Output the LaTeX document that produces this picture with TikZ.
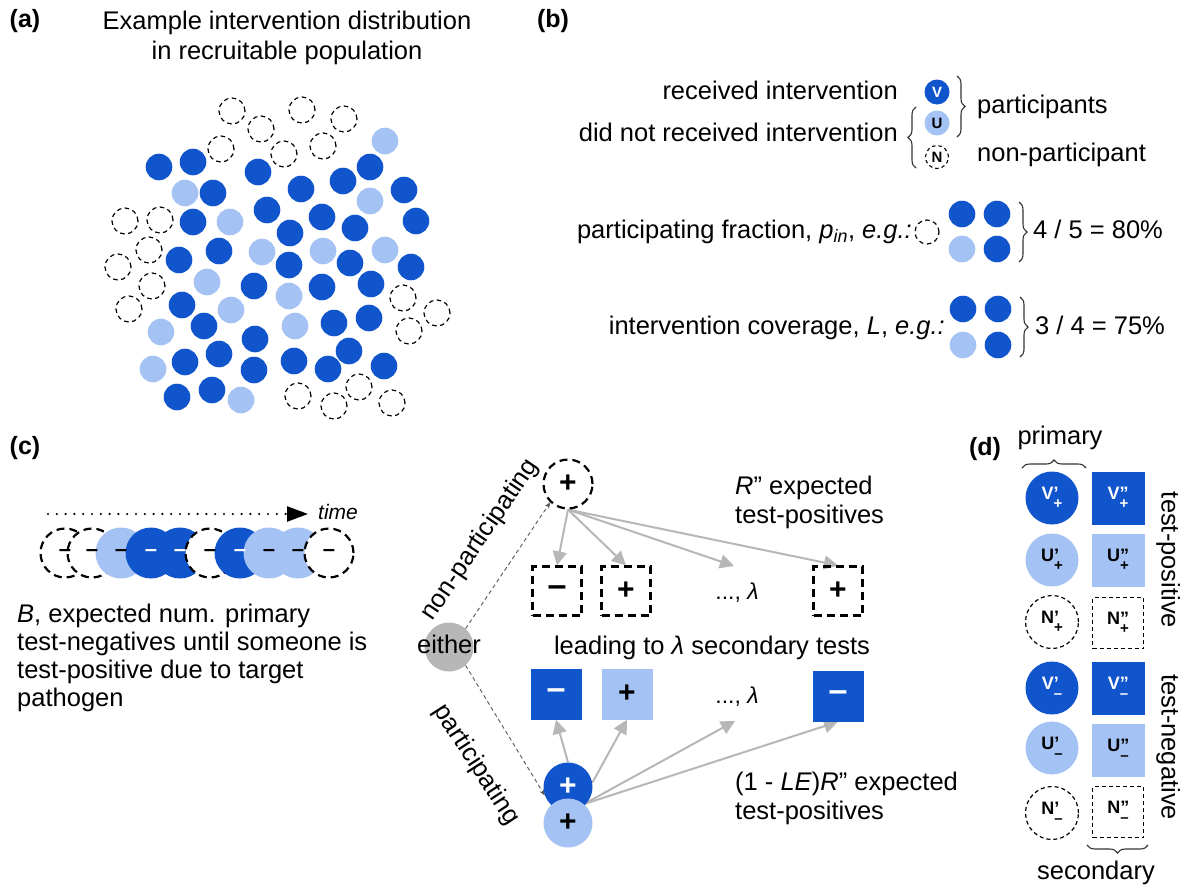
\documentclass[tikz,border=0pt]{standalone}
\usepackage{fontspec}
\setmainfont{Liberation Sans}
\usetikzlibrary{arrows.meta,decorations.pathreplacing}
\definecolor{dblue}{HTML}{1155CC}
\definecolor{lblue}{HTML}{A4C2F4}
\definecolor{egrey}{HTML}{B7B7B7}
\definecolor{agrey}{HTML}{B7B7B7}
\definecolor{bracec}{HTML}{333333}
\pgfdeclarelayer{back}
\pgfdeclarelayer{bg}
\pgfsetlayers{back,bg,main}
\newcommand{\dlab}[3]{\textbf{#1\rlap{#2}\raisebox{-0.5em}{\fontsize{15}{15}\selectfont #3}}}
\newcommand{\mn}{{\fontsize{34}{34}\selectfont –}}
\begin{document}
\begin{tikzpicture}[x=1pt,y=-1pt,
  txt/.style={inner sep=0pt, font=\fontsize{25.5}{28.5}\selectfont, text height=18pt, text depth=5pt},
  mtxt/.style={inner sep=0pt, align=left},
  plab/.style={inner sep=0pt, font=\bfseries\fontsize{25}{28}\selectfont, text height=18pt, text depth=5pt},
  dk/.style={circle, fill=dblue, inner sep=0pt, minimum size=26.6pt},
  lt/.style={circle, fill=lblue, inner sep=0pt, minimum size=26.6pt},
  dc/.style={circle, draw=black, line width=1.2pt, dash pattern=on 4.5pt off 3.5pt, inner sep=0pt, minimum size=26pt},
  leg/.style={circle, inner sep=0pt, minimum size=25pt, font=\bfseries\fontsize{15}{15}\selectfont},
  legd/.style={leg, draw=black, line width=1.1pt, dash pattern=on 3.5pt off 3pt, minimum size=23pt},
  tcd/.style={circle, draw=black, fill=white, line width=2.2pt, dash pattern=on 8pt off 5pt, inner sep=0pt, minimum size=49pt},
  tcl/.style={circle, fill=lblue, inner sep=0pt, minimum size=51pt},
  tck/.style={circle, fill=dblue, inner sep=0pt, minimum size=51pt},
  tmin/.style={inner sep=0pt, font=\bfseries\fontsize{22}{22}\selectfont},
  pm/.style={font=\bfseries\fontsize{30}{30}\selectfont},
  dbx/.style={rectangle, draw=black, line width=2.2pt, dash pattern=on 8pt off 5pt, minimum size=49pt, inner sep=0pt, pm},
  fbx/.style={rectangle, minimum size=51pt, inner sep=0pt, pm},
  ell/.style={inner sep=0pt, font=\fontsize{23}{23}\selectfont},
  garr/.style={draw=agrey, line width=2pt, -{Triangle[length=14pt,width=14pt]}},
  tdash/.style={draw=black!65, line width=0.9pt, dash pattern=on 4pt off 3pt, -{Stealth[length=6pt,width=5pt]}},
  brc/.style={decorate, decoration={brace, amplitude=#1}, line width=1.1pt, draw=bracec},
  brc/.default=8pt,
  dcirc/.style={circle, inner sep=0pt, minimum size=53pt, font=\fontsize{18}{18}\selectfont},
  dsq/.style={rectangle, inner sep=0pt, minimum size=53pt, font=\fontsize{18}{18}\selectfont},
  ddash/.style={draw=black, line width=1.2pt, dash pattern=on 4pt off 3pt},
]
\begin{pgfonlayer}{back}
\fill[white] (0,0) rectangle (1187,892);
\end{pgfonlayer}
\useasboundingbox (0,0) rectangle (1187,892);

% ---------------- (a)
\node[plab] (la) at (25,21) {(a)};
\node[mtxt, align=center, anchor=north, font=\fontsize{25.5}{30.7}\selectfont] (ttl) at (287,10.5) {Example intervention distribution\\in recruitable population};
\foreach \x/\y [count=\i] in {232/111,302/110,344/119,261/129,221/149,284/154,323/146,125/221,160/220,149/250,118/267,152/286,129/309,403/298,437/313,409/331,298/396,334/406,359/387,392/403}
  \node[dc] (an\i) at (\x,\y) {};
\foreach \x/\y [count=\i] in {385/141,185/193,370/201,230/222,262/252,323/251,385/250,207/282,289/296,231/310,161/332,295/326,153/369,241/400}
  \node[lt] (al\i) at (\x,\y) {};
\foreach \x/\y [count=\i] in {159/167,193/162,258/172,370/167,343/181,301/189,213/193,404/190,267/210,193/222,322/217,416/221,290/233,355/228,179/260,219/251,289/265,350/263,411/267,254/286,322/287,371/284,182/305,204/326,334/323,369/318,255/339,185/362,219/354,349/351,254/370,294/361,328/369,384/366,177/397,212/390}
  \node[dk] (ak\i) at (\x,\y) {};

% ---------------- (b)
\node[plab] (lb) at (553,21) {(b)};
\node[txt, anchor=east] (recv) at (898,93) {received intervention};
\node[txt, anchor=east] (dnr) at (898,135) {did not received intervention};
\node[leg, fill=dblue, text=white] (bV) at (937,92) {V};
\node[leg, fill=lblue] (bU) at (937,123) {U};
\node[legd] (bN) at (937,157) {N};
\draw[brc] (916,168) -- (916,107);
\draw[brc] (957,76) -- (957,137);
\node[txt, anchor=west] (part) at (977,107) {participants};
\node[txt, anchor=west] (npart) at (977,155) {non-participant};

\node[txt, anchor=east] (pin) at (912,232) {participating fraction, \textit{p}\textsubscript{\textit{in}}, \textit{e.g.:}};
\node[dc, minimum size=24pt] (pn) at (927,232) {};
\node[dk] (p1) at (962,214) {};
\node[dk] (p2) at (997,214) {};
\node[lt] (p3) at (962,249) {};
\node[dk] (p4) at (997,249) {};
\draw[brc] (1019,202) -- (1019,262);
\node[txt, anchor=west] (pr) at (1033,232) {4 / 5 = 80\%};

\node[txt, anchor=east] (cov) at (945,328) {intervention coverage, \textit{L}, \textit{e.g.:}};
\node[dk] (q1) at (963,309) {};
\node[dk] (q2) at (998,309) {};
\node[lt] (q3) at (963,345) {};
\node[dk] (q4) at (998,345) {};
\draw[brc] (1020,297) -- (1020,357);
\node[txt, anchor=west] (qr) at (1035,328) {3 / 4 = 75\%};

% ---------------- (c) timeline
\node[plab] (lc) at (25,448) {(c)};
\coordinate (tA) at (48,514);
\coordinate (tB) at (308,514);
\draw[line width=2.4pt, line cap=round, dash pattern=on 0pt off 8.8pt, -{Triangle[length=21pt,width=15pt]}] (tA) -- (tB);
\node[inner sep=0pt, anchor=west, font=\itshape\fontsize{21}{21}\selectfont, text height=15pt, text depth=4pt] (time) at (318,514) {time};
\foreach \x/\s [count=\i] in {65/tcd,92/tcd,121/tcl,151/tck,180/tck,210/tcd,240/tck,269/tcl,298/tcl,329/tcd}
  \node[\s] (tc\i) at (\x,553) {};
\foreach \c [count=\i] in {black,black,black,white,white,black,white,black,black,black}
  \node[tmin, text=\c] (tm\i) at (tc\i) {–};
\node[mtxt, anchor=north west, font=\fontsize{25.5}{28}\selectfont] (ctext) at (17,604) {\textit{B}, expected num. primary\\test-negatives until someone is\\test-positive due to target\\pathogen};

% ---------------- (c) tree
\node[circle, draw=black, line width=2.2pt, dash pattern=on 8pt off 5pt, fill=white, minimum size=49pt, inner sep=0pt, pm] (np) at (568,484) {+};
\node[circle, fill=egrey, minimum size=49pt, inner sep=0pt] (eith) at (449,647) {};
\node[txt] (eitht) at (eith) {either};
\node[dbx] (b1) at (557,591) {\mn};
\node[dbx] (b2) at (626,591) {+};
\node[ell] (e1) at (737,593) {..., \textit{λ}};
\node[dbx] (b4) at (838,591) {+};
\node[txt] (lead) at (712,648) {leading to \textit{λ} secondary tests};
\node[fbx, fill=dblue, text=white] (c1) at (556,694) {\mn};
\node[fbx, fill=lblue] (c2) at (627,694) {+};
\node[ell] (e2) at (737,697) {..., \textit{λ}};
\node[fbx, fill=dblue, text=white] (c4) at (838,696) {\mn};
\node[circle, fill=dblue, text=white, minimum size=49pt, inner sep=0pt, pm] (pk) at (568,787) {+};
\node[circle, fill=lblue, minimum size=49pt, inner sep=0pt, pm] (pl) at (568,823) {+};
\coordinate (ea) at (734,566);
\coordinate (eb) at (735,721);
\begin{pgfonlayer}{bg}
\draw[garr] (np.south) -- (b1.north);
\draw[garr] (np.south) -- (b2.north);
\draw[garr] (np.south) -- (ea);
\draw[garr] (np.south) -- (b4.north);
\draw[garr] (pk.north) -- (c1.south);
\draw[garr] (pk.10) -- (c2.south);
\draw[garr] (pl.50) -- (eb);
\draw[garr] (pl.50) -- (c4.south);
\draw[tdash] (eith.48) -- (np.226);
\draw[tdash] (eith.-48) -- (pk.200);
\end{pgfonlayer}
\node[txt, rotate=56] (nplab) at (480,540) {non-participating};
\node[txt, rotate=-57] (plab2) at (476,765) {participating};
\node[mtxt, anchor=north west, font=\fontsize{25.5}{29}\selectfont] (rtop) at (735,475.6) {\textit{R}” expected\\test-positives};
\node[mtxt, anchor=north west, font=\fontsize{25.5}{29}\selectfont] (rbot) at (735,771.5) {(1 - \textit{LE})\textit{R}” expected\\test-positives};

% ---------------- (d)
\node[plab] (ld) at (985,449) {(d)};
\node[txt] (prim) at (1060,438) {primary};
\draw[brc] (1022,468) -- (1086,468);
\node[dcirc, fill=dblue, text=white] (dv1) at (1052,498) {\dlab{V}{’}{+}};
\node[dcirc, fill=lblue] (du1) at (1052,560) {\dlab{U}{’}{+}};
\node[dcirc, ddash] (dn1) at (1052,622) {\dlab{N}{’}{+}};
\node[dcirc, fill=dblue, text=white] (dv2) at (1052,688) {\dlab{V}{’}{–}};
\node[dcirc, fill=lblue] (du2) at (1052,748) {\dlab{U}{’}{–}};
\node[dcirc, ddash] (dn2) at (1052,813) {\dlab{N}{’}{–}};
\node[dsq, fill=dblue, text=white] (sv1) at (1118,498) {\dlab{V}{”}{+}};
\node[dsq, fill=lblue] (su1) at (1118,560) {\dlab{U}{”}{+}};
\node[dsq, ddash, minimum size=51pt] (sn1) at (1118,623) {\dlab{N}{”}{+}};
\node[dsq, fill=dblue, text=white] (sv2) at (1118,688) {\dlab{V}{”}{–}};
\node[dsq, fill=lblue] (su2) at (1118,750) {\dlab{U}{”}{–}};
\node[dsq, ddash, minimum size=51pt] (sn2) at (1118,812) {\dlab{N}{”}{–}};
\node[txt, rotate=-90] (tpos) at (1168,560) {test-positive};
\node[txt, rotate=-90] (tneg) at (1168,747) {test-negative};
\draw[brc] (1148,845) -- (1087,845);
\node[txt] (sec) at (1096,873) {secondary};
\end{tikzpicture}
\end{document}
